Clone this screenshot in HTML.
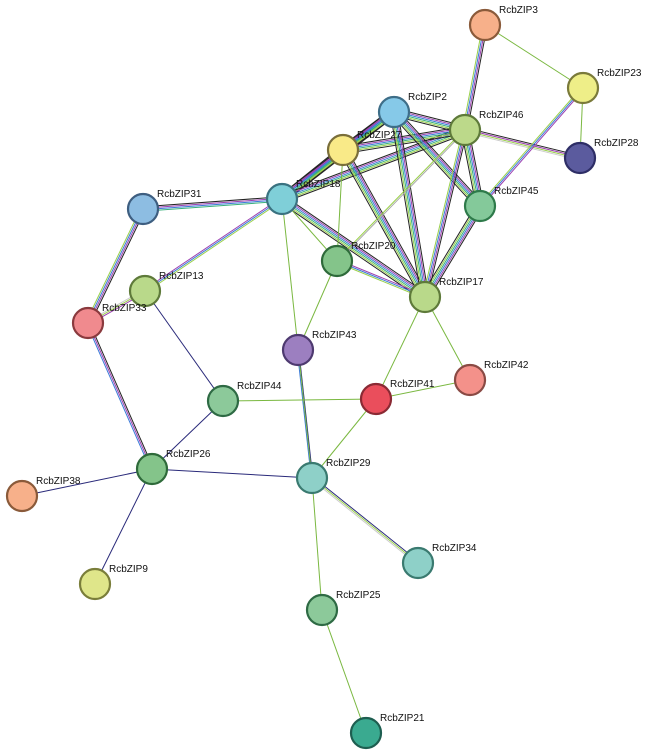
<!DOCTYPE html>
<html><head><meta charset="utf-8"><style>
html,body{margin:0;padding:0;background:#fff;width:650px;height:755px;overflow:hidden}
svg text{font-family:"Liberation Sans",sans-serif;font-size:10px;fill:#111}
</style></head><body>
<svg id="s" width="650" height="755" xmlns="http://www.w3.org/2000/svg"></svg>
<script>
var N={
"RcbZIP3":[485,25,"#f7b08a","#8a5a3a"],
"RcbZIP23":[583,88,"#eeee88","#7a7a3a"],
"RcbZIP28":[580,158,"#5b5b9e","#2e2e66"],
"RcbZIP2":[394,112,"#86c9e8","#3e6e88"],
"RcbZIP46":[465,130,"#bcd98a","#5e7a3a"],
"RcbZIP27":[343,150,"#f9ea88","#7a6e3a"],
"RcbZIP18":[282,199,"#7fcfd8","#3a7280"],
"RcbZIP31":[143,209,"#8dbde2","#3e5e80"],
"RcbZIP45":[480,206,"#84c99a","#2e7a4a"],
"RcbZIP20":[337,261,"#84c48a","#2e6a3a"],
"RcbZIP17":[425,297,"#b9d98a","#5e7a3a"],
"RcbZIP13":[145,291,"#b9d98a","#5e7a3a"],
"RcbZIP33":[88,323,"#f08a8e","#8a3a3e"],
"RcbZIP43":[298,350,"#9c7fc0","#4e3a70"],
"RcbZIP42":[470,380,"#f4918a","#8a4a44"],
"RcbZIP41":[376,399,"#ea4e5c","#8a2a34"],
"RcbZIP44":[223,401,"#8cc99a","#2e6a44"],
"RcbZIP26":[152,469,"#84c48a","#2e6a3a"],
"RcbZIP29":[312,478,"#8ed0c8","#3a7a70"],
"RcbZIP38":[22,496,"#f7b08a","#8a5a3a"],
"RcbZIP34":[418,563,"#8ed0c8","#3a7a70"],
"RcbZIP9":[95,584,"#dfe68a","#7a7e3a"],
"RcbZIP25":[322,610,"#8cc99a","#2e6a44"],
"RcbZIP21":[366,733,"#3aaa90","#1e5e50"]
};
var M=["#222","#9b3fb0","#3a7ad8","#39b07a","#9ad04a","#222"];
var E=[
["31","18",["#222","#9b3fb0","#3a7ad8","#39b07a"]],["31","33",["#222","#9b3fb0","#3a7ad8","#9ad04a"]],
["18","27",M],["18","2",M],["18","46",M],["18","17",M],["27","46",M],["27","17",M],["27","2",M],
["2","46",M],["2","17",M],["2","45",M],["46","45",M],["46","17",["#222","#9b3fb0","#3a7ad8","#9ad04a"]],["45","17",M],
["46","28",["#222","#9b3fb0","#9ad04a","#ccc"]],["3","46",["#222","#9b3fb0","#3a7ad8","#9ad04a"]],["23","45",["#9b3fb0","#3a7ad8","#9ad04a"]],
["20","17",["#9b3fb0","#3a7ad8","#9ad04a"]],["13","18",["#9b3fb0","#3a7ad8","#9ad04a"]],["13","33",["#9b3fb0","#9ad04a","#ccc"]],
["33","26",["#222","#9b3fb0","#3a7ad8"]],["29","34",["#2a2a7a","#9ad04a","#ccc"]],["43","29",["#2a2a7a","#3a7ad8"]],
["46","20",["#aaa","#9ad04a"]],
["3","23",["#7ab840"]],["23","28",["#7ab840"]],["18","29",["#7ab840"]],["18","20",["#7ab840"]],["27","20",["#7ab840"]],
["20","43",["#7ab840"]],["17","41",["#7ab840"]],["17","42",["#7ab840"]],["41","42",["#7ab840"]],["41","44",["#7ab840"]],
["41","29",["#7ab840"]],["29","25",["#7ab840"]],["25","21",["#7ab840"]],
["44","13",["#2a2a7a"]],["26","44",["#2a2a7a"]],["26","29",["#2a2a7a"]],["26","38",["#2a2a7a"]],["26","9",["#2a2a7a"]]
];
var s=document.getElementById("s"),h="";
E.forEach(function(e){var a=N["RcbZIP"+e[0]],b=N["RcbZIP"+e[1]],c=e[2];
var dx=b[0]-a[0],dy=b[1]-a[1],L=Math.sqrt(dx*dx+dy*dy),px=-dy/L,py=dx/L,n=c.length;
c.forEach(function(col,i){var o=(i-(n-1)/2)*1.5;
h+='<line x1="'+(a[0]+px*o)+'" y1="'+(a[1]+py*o)+'" x2="'+(b[0]+px*o)+'" y2="'+(b[1]+py*o)+'" stroke="'+col+'" stroke-width="1"/>';});});
for(var k in N){var v=N[k];
h+='<circle cx="'+v[0]+'" cy="'+v[1]+'" r="15" fill="'+v[2]+'" stroke="'+v[3]+'" stroke-width="2.2"/>';
h+='<text x="'+(v[0]+14)+'" y="'+(v[1]-12)+'">'+k+'</text>';}
s.innerHTML=h;
</script>
</body></html>
